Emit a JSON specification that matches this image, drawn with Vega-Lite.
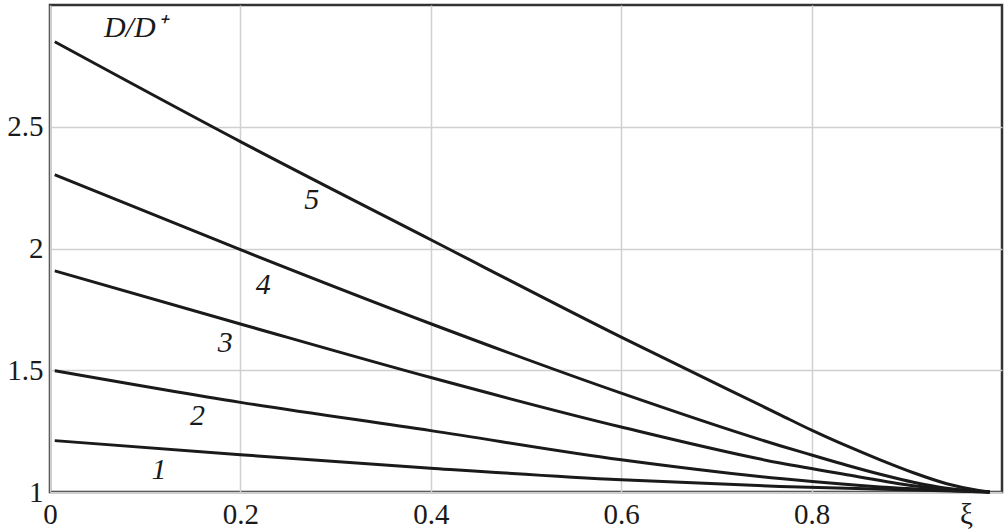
{
  "$schema": "https://vega.github.io/schema/vega-lite/v6.json",
  "autosize": "none",
  "width": 952,
  "height": 487,
  "padding": {"left": 50, "top": 5, "right": 6, "bottom": 39},
  "background": "white",
  "config": {
    "view": {"stroke": "#333333", "strokeWidth": 2.5},
    "font": "Liberation Serif, Times New Roman, serif"
  },
  "datasets": {
    "curves": [
      {"curve": "5", "xi": 0.005, "d": 2.849},
      {"curve": "5", "xi": 0.2, "d": 2.439},
      {"curve": "5", "xi": 0.4, "d": 2.036},
      {"curve": "5", "xi": 0.6, "d": 1.636},
      {"curve": "5", "xi": 0.767, "d": 1.317},
      {"curve": "5", "xi": 0.8, "d": 1.254},
      {"curve": "5", "xi": 0.837, "d": 1.189},
      {"curve": "5", "xi": 0.872, "d": 1.132},
      {"curve": "5", "xi": 0.907, "d": 1.079},
      {"curve": "5", "xi": 0.942, "d": 1.034},
      {"curve": "5", "xi": 0.977, "d": 1.005},
      {"curve": "5", "xi": 0.987, "d": 1.0},
      {"curve": "4", "xi": 0.005, "d": 2.303},
      {"curve": "4", "xi": 0.2, "d": 1.995},
      {"curve": "4", "xi": 0.4, "d": 1.691},
      {"curve": "4", "xi": 0.6, "d": 1.406},
      {"curve": "4", "xi": 0.767, "d": 1.19},
      {"curve": "4", "xi": 0.8, "d": 1.152},
      {"curve": "4", "xi": 0.837, "d": 1.11},
      {"curve": "4", "xi": 0.872, "d": 1.073},
      {"curve": "4", "xi": 0.907, "d": 1.04},
      {"curve": "4", "xi": 0.942, "d": 1.015},
      {"curve": "4", "xi": 0.987, "d": 1.0},
      {"curve": "3", "xi": 0.005, "d": 1.908},
      {"curve": "3", "xi": 0.2, "d": 1.69},
      {"curve": "3", "xi": 0.4, "d": 1.47},
      {"curve": "3", "xi": 0.6, "d": 1.267},
      {"curve": "3", "xi": 0.767, "d": 1.119},
      {"curve": "3", "xi": 0.837, "d": 1.071},
      {"curve": "3", "xi": 0.907, "d": 1.026},
      {"curve": "3", "xi": 0.987, "d": 1.0},
      {"curve": "2", "xi": 0.005, "d": 1.498},
      {"curve": "2", "xi": 0.2, "d": 1.368},
      {"curve": "2", "xi": 0.4, "d": 1.252},
      {"curve": "2", "xi": 0.6, "d": 1.132},
      {"curve": "2", "xi": 0.767, "d": 1.055},
      {"curve": "2", "xi": 0.872, "d": 1.021},
      {"curve": "2", "xi": 0.987, "d": 1.0},
      {"curve": "1", "xi": 0.005, "d": 1.211},
      {"curve": "1", "xi": 0.2, "d": 1.153},
      {"curve": "1", "xi": 0.4, "d": 1.098},
      {"curve": "1", "xi": 0.6, "d": 1.05},
      {"curve": "1", "xi": 0.767, "d": 1.023},
      {"curve": "1", "xi": 0.987, "d": 1.0}
    ],
    "labels": [
      {"text": "5", "xi": 0.275, "d": 2.2},
      {"text": "4", "xi": 0.224, "d": 1.851},
      {"text": "3", "xi": 0.184, "d": 1.613},
      {"text": "2", "xi": 0.155, "d": 1.313},
      {"text": "1", "xi": 0.1145, "d": 1.092},
      {"text": "D/D⁺", "xi": 0.089, "d": 2.906}
    ]
  },
  "layer": [
    {
      "data": {"name": "curves"},
      "mark": {"type": "line", "color": "#1a1a1a", "strokeWidth": 3, "interpolate": "monotone"},
      "encoding": {
        "x": {
          "field": "xi", "type": "quantitative",
          "scale": {"domain": [0, 1], "nice": false, "zero": false},
          "axis": {
            "values": [0, 0.2, 0.4, 0.6, 0.8],
            "labelExpr": "datum.value == 0 ? '0' : format(datum.value, '.1f')",
            "domain": false, "ticks": false,
            "grid": true, "gridColor": "#d0d0d0", "gridWidth": 1.5,
            "labelFont": "Liberation Serif, Times New Roman, serif", "labelFontSize": 29, "labelColor": "#1a1a1a",
            "labelPadding": 8, "labelFlush": false,
            "title": "ξ", "titleFont": "Liberation Serif, Times New Roman, serif", "titleFontSize": 29,
            "titleFontWeight": "normal", "titleColor": "#1a1a1a",
            "titleX": 916, "titleY": 8, "titleBaseline": "top", "titleAnchor": "start", "titleAlign": "center"
          }
        },
        "y": {
          "field": "d", "type": "quantitative",
          "scale": {"domain": [1, 3], "nice": false, "zero": false},
          "axis": {
            "values": [1, 1.5, 2, 2.5],
            "format": "~g",
            "domain": false, "ticks": false,
            "grid": true, "gridColor": "#d0d0d0", "gridWidth": 1.5,
            "labelFont": "Liberation Serif, Times New Roman, serif", "labelFontSize": 29, "labelColor": "#1a1a1a",
            "labelPadding": 7, "labelFlush": false,
            "title": null
          }
        },
        "detail": {"field": "curve", "type": "nominal"}
      }
    },
    {
      "data": {"name": "labels"},
      "mark": {"type": "text", "font": "Liberation Serif, Times New Roman, serif", "fontStyle": "italic", "fontSize": 30, "color": "#1a1a1a", "align": "center", "baseline": "middle"},
      "encoding": {
        "x": {"field": "xi", "type": "quantitative"},
        "y": {"field": "d", "type": "quantitative"},
        "text": {"field": "text", "type": "nominal"}
      }
    }
  ]
}
